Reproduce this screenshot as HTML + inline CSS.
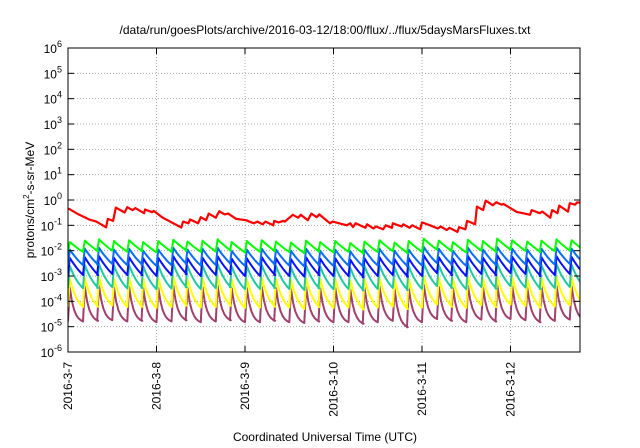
<!DOCTYPE html>
<html><head><meta charset="utf-8"><style>
html,body{margin:0;padding:0;background:#fff}
svg{display:block;font-family:"Liberation Sans",sans-serif}
</style></head><body>
<svg id="chart" width="640" height="448" viewBox="0 0 640 448" xmlns="http://www.w3.org/2000/svg">
<rect x="0" y="0" width="640" height="448" fill="#fff"/>
<text x="325" y="34" font-size="12" text-anchor="middle">/data/run/goesPlots/archive/2016-03-12/18:00/flux/../flux/5daysMarsFluxes.txt</text>
<defs><clipPath id="pc"><rect x="68" y="48" width="512" height="304"/></clipPath></defs>
<g id="grid"></g>
<g id="series" clip-path="url(#pc)"></g>
<rect x="68" y="48" width="512" height="304" fill="none" stroke="#000" stroke-width="1"/>
<g id="axes"></g>
<text transform="translate(34,200) rotate(-90)" font-size="12" text-anchor="middle">protons/cm<tspan font-size="8" dy="-5">2</tspan><tspan dy="5">-s-sr-MeV</tspan></text>
<text x="325" y="441" font-size="12" text-anchor="middle">Coordinated Universal Time (UTC)</text>
</svg>
<script>
const dayLabels = ["2016-3-7","2016-3-8","2016-3-9","2016-3-10","2016-3-11","2016-3-12"];
const yExponents = [-6,-5,-4,-3,-2,-1,0,1,2,3,4,5,6];
const redDays = [0.00,0.01,0.12,0.24,0.32,0.43,0.45,0.51,0.54,0.64,0.67,0.73,0.76,0.86,0.87,0.95,0.97,1.07,1.28,1.30,1.36,1.38,1.47,1.50,1.56,1.59,1.67,1.71,1.77,1.81,1.90,2.01,2.10,2.14,2.20,2.23,2.32,2.33,2.38,2.43,2.45,2.54,2.60,2.63,2.71,2.75,2.81,2.84,2.90,2.96,2.99,3.15,3.19,3.22,3.25,3.36,3.38,3.45,3.48,3.56,3.59,3.66,3.67,3.77,3.79,3.86,3.89,3.98,4.00,4.09,4.18,4.21,4.28,4.31,4.40,4.42,4.49,4.51,4.60,4.62,4.69,4.72,4.80,4.84,4.90,4.92,5.07,5.14,5.22,5.24,5.33,5.36,5.45,5.47,5.53,5.55,5.65,5.67,5.73,5.75,5.81];
const redValues = [0.45,0.45,0.27,0.17,0.14,0.084,0.18,0.15,0.5,0.32,0.52,0.4,0.48,0.3,0.42,0.33,0.37,0.2,0.082,0.14,0.12,0.17,0.12,0.21,0.16,0.29,0.2,0.36,0.27,0.29,0.18,0.16,0.12,0.14,0.11,0.14,0.10,0.15,0.13,0.15,0.14,0.26,0.2,0.26,0.16,0.29,0.21,0.27,0.18,0.12,0.14,0.1,0.12,0.085,0.12,0.08,0.11,0.075,0.09,0.07,0.1,0.08,0.12,0.09,0.11,0.08,0.1,0.07,0.13,0.1,0.075,0.09,0.065,0.08,0.055,0.085,0.07,0.15,0.11,0.55,0.4,0.95,0.62,0.82,0.65,0.7,0.34,0.3,0.26,0.4,0.3,0.35,0.2,0.4,0.3,0.6,0.35,0.75,0.65,0.8,0.8];
const cycleDays = [0.00,0.17,0.33,0.50,0.67,0.83,1.00,1.17,1.33,1.50,1.67,1.83,2.00,2.17,2.33,2.50,2.67,2.83,3.00,3.17,3.33,3.50,3.67,3.83,4.00,4.17,4.33,4.50,4.67,4.83,5.00,5.17,5.33,5.50,5.67];
const greenPeaks = [0.022,0.025,0.028,0.024,0.026,0.022,0.024,0.027,0.023,0.025,0.028,0.022,0.024,0.026,0.023,0.021,0.025,0.022,0.024,0.020,0.023,0.026,0.021,0.024,0.030,0.025,0.022,0.027,0.024,0.030,0.026,0.023,0.025,0.028,0.026];
const greenTroughs = [0.009,0.0095,0.010,0.009,0.0095,0.0085,0.009,0.010,0.009,0.0092,0.010,0.0085,0.009,0.0095,0.0088,0.008,0.0092,0.0085,0.009,0.0078,0.0088,0.0095,0.008,0.009,0.011,0.0095,0.0085,0.010,0.009,0.011,0.0098,0.0088,0.0095,0.010,0.0098];
const lblueTroughs = [0.0027,0.0028,0.003,0.0027,0.0028,0.0025,0.0027,0.003,0.0026,0.0027,0.003,0.0025,0.0026,0.0028,0.0026,0.0024,0.0027,0.0025,0.0026,0.0023,0.0026,0.0028,0.0024,0.0026,0.0032,0.0028,0.0025,0.003,0.0027,0.0032,0.0029,0.0026,0.0028,0.003,0.0029];
const lbluePeaks = [0.011,0.012,0.013,0.011,0.012,0.010,0.011,0.013,0.011,0.012,0.013,0.010,0.011,0.012,0.011,0.010,0.012,0.010,0.011,0.0095,0.011,0.012,0.010,0.011,0.014,0.012,0.010,0.013,0.011,0.014,0.012,0.011,0.012,0.013,0.012];
const dblueTroughs = [0.0011,0.0011,0.0012,0.0011,0.0011,0.001,0.0011,0.0012,0.001,0.0011,0.0012,0.001,0.001,0.0011,0.001,0.00095,0.0011,0.001,0.001,0.0009,0.001,0.0011,0.00095,0.001,0.0013,0.0011,0.001,0.0012,0.0011,0.0013,0.0012,0.001,0.0011,0.0012,0.0011];
const dbluePeaks = [0.0052,0.0055,0.006,0.0052,0.0055,0.005,0.0052,0.006,0.005,0.0053,0.006,0.0048,0.005,0.0055,0.005,0.0046,0.0054,0.0048,0.005,0.0044,0.005,0.0055,0.0046,0.005,0.0065,0.0055,0.0048,0.006,0.0052,0.0065,0.0057,0.005,0.0054,0.006,0.0056];
const tealTroughs = [0.00033,0.00034,0.00036,0.00032,0.00034,0.0003,0.00032,0.00036,0.00031,0.00033,0.00036,0.0003,0.00031,0.00034,0.00031,0.00028,0.00033,0.0003,0.00031,0.00027,0.00031,0.00034,0.00028,0.00031,0.0004,0.00034,0.0003,0.00037,0.00032,0.0004,0.00035,0.00031,0.00034,0.00037,0.00035];
const tealPeaks = [0.0025,0.0027,0.003,0.0026,0.0027,0.0024,0.0026,0.003,0.0025,0.0026,0.003,0.0024,0.0025,0.0027,0.0025,0.0022,0.0026,0.0024,0.0025,0.0021,0.0025,0.0027,0.0022,0.0025,0.0032,0.0027,0.0024,0.003,0.0026,0.0032,0.0028,0.0025,0.0027,0.003,0.0028];
const yellowTroughs = [0.00006,0.000062,0.000068,0.00006,0.000062,0.000055,0.00006,0.000068,0.000057,0.00006,0.000068,0.000055,0.000057,0.000062,0.000057,0.00005,0.00006,0.000055,0.000057,0.000048,0.000057,0.000062,0.00005,0.000057,0.000075,0.000062,0.000055,0.00007,0.00006,0.000075,0.000065,0.000057,0.000062,0.00007,0.000065];
const yellowPeaks = [0.0008,0.00085,0.00095,0.0008,0.00085,0.00075,0.0008,0.00095,0.00078,0.00082,0.00095,0.00075,0.00078,0.00085,0.00078,0.0007,0.00082,0.00075,0.00078,0.00066,0.00078,0.00085,0.0007,0.00078,0.001,0.00085,0.00075,0.00095,0.0008,0.001,0.00088,0.00078,0.00085,0.00095,0.00088];
const purpleTroughs = [0.000016,0.000017,0.000018,0.000016,0.000017,0.000015,0.000016,0.000018,0.000015,0.000016,0.000018,0.000015,0.000015,0.000017,0.000015,0.000014,0.000016,0.000015,0.000015,0.000013,0.000015,0.000017,0.0000095,0.000015,0.00002,0.000017,0.000015,0.000019,0.000016,0.00002,0.000018,0.000015,0.000017,0.000019,0.000018];
const purplePeaks = [0.00035,0.00038,0.00042,0.00035,0.00038,0.00033,0.00035,0.00042,0.00034,0.00036,0.00042,0.00033,0.00034,0.00038,0.00034,0.0003,0.00036,0.00033,0.00034,0.00029,0.00034,0.00038,0.0003,0.00034,0.00045,0.00038,0.00033,0.00042,0.00035,0.00045,0.00039,0.00034,0.00038,0.00042,0.00039];

const NS='http://www.w3.org/2000/svg';
const X0=68,X1=580,Y0=48,Y1=352,DAYPX=88.5;
function xs(d){return X0+d*DAYPX;}
function ys(v){return Y1-(Math.log10(v)+6)*(Y1-Y0)/12;}
function mk(tag,attrs,parent){const e=document.createElementNS(NS,tag);for(const k in attrs)e.setAttribute(k,attrs[k]);parent.appendChild(e);return e;}
const grid=document.getElementById('grid'),axes=document.getElementById('axes'),ser=document.getElementById('series');

yExponents.forEach(function(p){
  const y=ys(Math.pow(10,p));
  if(p>-6&&p<6){const g=mk('line',{x1:X0,x2:X1,y1:y,y2:y,stroke:'#aaa','stroke-width':1,'stroke-dasharray':'1,2'},grid);
  
  }
  const t1=mk('line',{x1:X0,x2:X0+6,y1:y,y2:y,stroke:'#000'},axes);
  
  
  const t2=mk('line',{x1:X1-6,x2:X1,y1:y,y2:y,stroke:'#000'},axes);
  
  
  const tx=mk('text',{x:62,y:y+5,'font-size':12,'text-anchor':'end'},axes);
  
  
  tx.appendChild(document.createTextNode('10'));
  const sp=document.createElementNS(NS,'tspan');sp.setAttribute('font-size','9');sp.setAttribute('dy','-6');sp.textContent=String(p);tx.appendChild(sp);
});
dayLabels.forEach(function(lab,i){
  const x=xs(i);
  if(i>0){const g=mk('line',{x1:x,x2:x,y1:Y0,y2:Y1,stroke:'#aaa','stroke-width':1,'stroke-dasharray':'1,2'},grid);
  
  }
  const t1=mk('line',{x1:x,x2:x,y1:Y1-6,y2:Y1,stroke:'#000'},axes);
  
  
  const t2=mk('line',{x1:x,x2:x,y1:Y0,y2:Y0+6,stroke:'#000'},axes);
  
  
  const tx=mk('text',{transform:'translate('+(x+4)+',362) rotate(-90)','font-size':12,'text-anchor':'end'},axes);
  
  
  tx.textContent=lab;
});

function sawPath(peaks,troughs,curve){
  let d='';const n=cycleDays.length,step=cycleDays[1]-cycleDays[0];
  for(let i=0;i<n;i++){
    const t0=cycleDays[i];
    const start=i===0?troughs[0]:troughs[i-1];
    d+=(i===0?'M':'L')+xs(t0).toFixed(1)+','+ys(start).toFixed(1);
    d+='L'+xs(t0+0.02).toFixed(1)+','+ys(peaks[i]).toFixed(1);
    const lp=Math.log10(peaks[i]),lt=Math.log10(troughs[i]);
    for(let k=1;k<=6;k++){
      const f=k/6,g=(1-Math.exp(-curve*f))/(1-Math.exp(-curve));
      d+='L'+xs(t0+0.02+f*(step-0.02)).toFixed(1)+','+ys(Math.pow(10,lp+(lt-lp)*g)).toFixed(1);
    }
  }
  return d;
}
const sets=[
  ['purple-series',purplePeaks,purpleTroughs,'#a0406e',3],
  ['yellow-series',yellowPeaks,yellowTroughs,'#ffff00',1.5],
  ['teal-series',tealPeaks,tealTroughs,'#20c8a0',1],
  ['dark-blue-series',dbluePeaks,dblueTroughs,'#0a10ff',0.5],
  ['light-blue-series',lbluePeaks,lblueTroughs,'#0a6cff',0.5],
  ['green-series',greenPeaks,greenTroughs,'#00ff00',0.3]
];
sets.forEach(function(s){
  const p=mk('path',{d:sawPath(s[1],s[2],s[4]),fill:'none',stroke:s[3],'stroke-width':2,'stroke-linejoin':'round'},ser);
  
  
});
let rd='';
redDays.forEach(function(d,i){rd+=(i?'L':'M')+xs(d).toFixed(1)+','+ys(redValues[i]).toFixed(1);});
const rp=mk('path',{d:rd,fill:'none',stroke:'#ff0000','stroke-width':2.2,'stroke-linejoin':'round'},ser);


</script>
</body></html>
